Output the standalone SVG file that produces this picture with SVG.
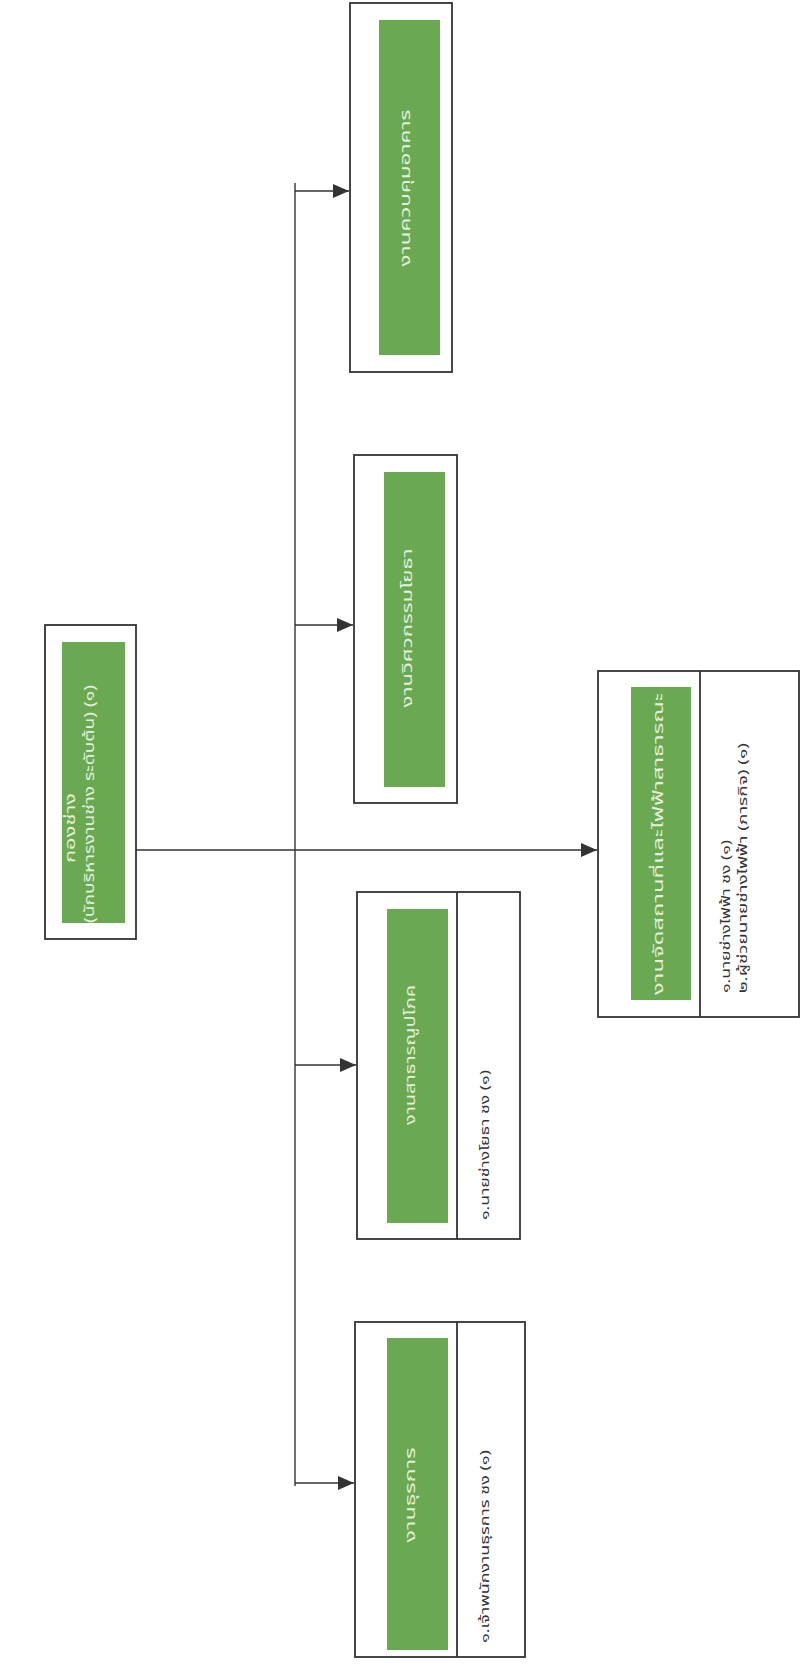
<svg xmlns="http://www.w3.org/2000/svg" width="801" height="1669" viewBox="0 0 801 1669">
<defs>
<marker id="arr" markerUnits="userSpaceOnUse" markerWidth="17" markerHeight="15" refX="16" refY="7" orient="auto">
<path d="M0,0 L16,7 L0,14 Z" fill="#333"/>
</marker>
<style>
.box{fill:#fff;stroke:#333;stroke-width:1.8}
.div{stroke:#333;stroke-width:1.8}
.g{fill:#6aa951}
.gt{fill:#e4efde;font-family:"Noto Sans Thai","Tahoma","DejaVu Sans",sans-serif;font-size:14px}
.wt{fill:#333;font-family:"Noto Sans Thai","Tahoma","DejaVu Sans",sans-serif;font-size:13px}
.con{stroke:#333;stroke-width:1.4;fill:none}
</style>
</defs>
<rect width="801" height="1669" fill="#fff"/>
<g id="connectors">
<line class="con" x1="295" y1="183" x2="295" y2="1486"/>
<line class="con" x1="295" y1="191" x2="349" y2="191" marker-end="url(#arr)"/>
<line class="con" x1="295" y1="625" x2="353" y2="625" marker-end="url(#arr)"/>
<line class="con" x1="295" y1="1065" x2="356" y2="1065" marker-end="url(#arr)"/>
<line class="con" x1="295" y1="1483" x2="354" y2="1483" marker-end="url(#arr)"/>
<line class="con" x1="136" y1="850" x2="597" y2="850" marker-end="url(#arr)"/>
</g>
<g id="node-root">
<rect class="box" x="45" y="625" width="91" height="314"/>
<rect class="g" x="62" y="642" width="63" height="281"/>
<text class="gt" transform="translate(75,828) rotate(-90)" text-anchor="middle" textLength="70" lengthAdjust="spacingAndGlyphs">กองช่าง</text>
<text class="gt" transform="translate(94,804) rotate(-90)" text-anchor="middle" textLength="238" lengthAdjust="spacingAndGlyphs">(นักบริหารงานช่าง ระดับต้น) (๑)</text>
</g>
<g id="node-building">
<rect class="box" x="350" y="3" width="102" height="369"/>
<rect class="g" x="379" y="20" width="61" height="335"/>
<text class="gt" transform="translate(410,188) rotate(-90)" text-anchor="middle" textLength="157" lengthAdjust="spacingAndGlyphs">งานควบคุมอาคาร</text>
</g>
<g id="node-civil">
<rect class="box" x="354" y="455" width="103" height="348"/>
<rect class="g" x="384" y="472" width="61" height="315"/>
<text class="gt" transform="translate(412,628) rotate(-90)" text-anchor="middle" textLength="159" lengthAdjust="spacingAndGlyphs">งานวิศวกรรมโยธา</text>
</g>
<g id="node-utility">
<rect class="box" x="357" y="892" width="163" height="347"/>
<line class="div" x1="457" y1="892" x2="457" y2="1239"/>
<rect class="g" x="387" y="909" width="61" height="314"/>
<text class="gt" transform="translate(415,1055) rotate(-90)" text-anchor="middle" textLength="140" lengthAdjust="spacingAndGlyphs">งานสาธารณูปโภค</text>
<text class="wt" transform="translate(489,1220) rotate(-90)" textLength="150" lengthAdjust="spacingAndGlyphs">๑.นายช่างโยธา ชง (๑)</text>
</g>
<g id="node-admin">
<rect class="box" x="355" y="1322" width="170" height="335"/>
<line class="div" x1="457" y1="1322" x2="457" y2="1657"/>
<rect class="g" x="387" y="1338" width="61" height="312"/>
<text class="gt" transform="translate(415,1495) rotate(-90)" text-anchor="middle" textLength="95" lengthAdjust="spacingAndGlyphs">งานธุรการ</text>
<text class="wt" transform="translate(489,1643) rotate(-90)" textLength="193" lengthAdjust="spacingAndGlyphs">๑.เจ้าพนักงานธุรการ ชง (๑)</text>
</g>
<g id="node-electric">
<rect class="box" x="598" y="671" width="201" height="346"/>
<line class="div" x1="700" y1="671" x2="700" y2="1017"/>
<rect class="g" x="631" y="687" width="60" height="313"/>
<text class="gt" transform="translate(663,844) rotate(-90)" text-anchor="middle" textLength="302" lengthAdjust="spacingAndGlyphs">งานจัดสถานที่และไฟฟ้าสาธารณะ</text>
<text class="wt" transform="translate(730,993) rotate(-90)" textLength="153" lengthAdjust="spacingAndGlyphs">๑.นายช่างไฟฟ้า ชง (๑)</text>
<text class="wt" transform="translate(747,993) rotate(-90)" textLength="250" lengthAdjust="spacingAndGlyphs">๒.ผู้ช่วยนายช่างไฟฟ้า (ภารกิจ) (๑)</text>
</g>
</svg>
